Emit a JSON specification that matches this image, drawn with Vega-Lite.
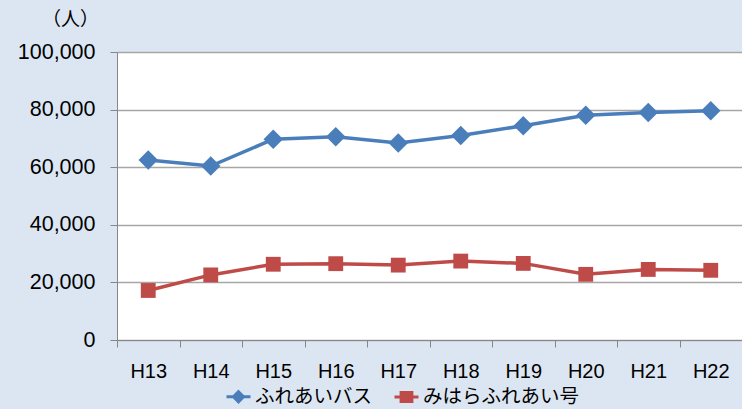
{
  "$schema": "https://vega.github.io/schema/vega-lite/v6.json",
  "width": 625,
  "height": 288,
  "autosize": "none",
  "padding": {"left": 117, "top": 52, "right": 0, "bottom": 69},
  "background": "#dce6f2",
  "view": {"fill": "white", "stroke": null},
  "config": {"font": "Liberation Sans"},
  "data": {
    "values": [
      {"year": "H13", "series": "ふれあいバス", "value": 62500},
      {"year": "H14", "series": "ふれあいバス", "value": 60400},
      {"year": "H15", "series": "ふれあいバス", "value": 69700},
      {"year": "H16", "series": "ふれあいバス", "value": 70600},
      {"year": "H17", "series": "ふれあいバス", "value": 68400},
      {"year": "H18", "series": "ふれあいバス", "value": 71000},
      {"year": "H19", "series": "ふれあいバス", "value": 74400},
      {"year": "H20", "series": "ふれあいバス", "value": 78000},
      {"year": "H21", "series": "ふれあいバス", "value": 79000},
      {"year": "H22", "series": "ふれあいバス", "value": 79600},
      {"year": "H13", "series": "みはらふれあい号", "value": 17200},
      {"year": "H14", "series": "みはらふれあい号", "value": 22600},
      {"year": "H15", "series": "みはらふれあい号", "value": 26300},
      {"year": "H16", "series": "みはらふれあい号", "value": 26500},
      {"year": "H17", "series": "みはらふれあい号", "value": 26000},
      {"year": "H18", "series": "みはらふれあい号", "value": 27400},
      {"year": "H19", "series": "みはらふれあい号", "value": 26600},
      {"year": "H20", "series": "みはらふれあい号", "value": 22800},
      {"year": "H21", "series": "みはらふれあい号", "value": 24500},
      {"year": "H22", "series": "みはらふれあい号", "value": 24200}
    ]
  },
  "encoding": {
    "x": {
      "field": "year",
      "type": "nominal",
      "sort": null,
      "scale": {"type": "band", "paddingInner": 0, "paddingOuter": 0},
      "axis": {
        "title": null,
        "labelAngle": 0,
        "labelFontSize": 20,
        "labelColor": "black",
        "labelPadding": 14,
        "tickSize": 7,
        "tickBand": "extent",
        "tickColor": "#868686",
        "domainColor": "#868686",
        "grid": false
      }
    },
    "y": {
      "field": "value",
      "type": "quantitative",
      "scale": {"domain": [0, 100000], "nice": false},
      "axis": {
        "title": "（人）",
        "titleAngle": 0,
        "titleX": -47,
        "titleY": -33,
        "titleAlign": "center",
        "titleBaseline": "middle",
        "titleFont": "Noto Sans CJK JP",
        "titleFontSize": 19,
        "titleFontWeight": "normal",
        "titleColor": "black",
        "values": [0, 20000, 40000, 60000, 80000, 100000],
        "format": ",d",
        "labelFontSize": 21.5,
        "labelColor": "black",
        "labelPadding": 15,
        "tickSize": 7,
        "tickColor": "#868686",
        "domainColor": "#868686",
        "gridColor": "#a6a6a6",
        "gridWidth": 1.5
      }
    },
    "color": {
      "field": "series",
      "type": "nominal",
      "sort": null,
      "scale": {"domain": ["ふれあいバス", "みはらふれあい号"], "range": ["#4a7ebb", "#be4b48"]},
      "legend": {
        "title": null,
        "orient": "none",
        "direction": "horizontal",
        "legendX": 108,
        "legendY": 331,
        "labelFont": "Noto Sans CJK JP",
        "labelFontSize": 19.5,
        "labelColor": "black",
        "labelLimit": 300,
        "labelOffset": 3,
        "columnPadding": 15,
        "symbolSize": 576,
        "symbolStrokeWidth": 3,
        "encode": {
          "symbols": {
            "update": {
              "shape": {"signal": "datum.value == 'ふれあいバス' ? 'M-1,0L1,0M0,-0.42L0.42,0L0,0.42L-0.42,0Z' : 'M-1,0L1,0M-0.45,-0.38L0.45,-0.38L0.45,0.38L-0.45,0.38Z'"},
              "fill": {"signal": "datum.value == 'ふれあいバス' ? '#4a7ebb' : '#be4b48'"},
              "stroke": {"signal": "datum.value == 'ふれあいバス' ? '#4a7ebb' : '#be4b48'"},
              "strokeWidth": {"value": 3},
              "opacity": {"value": 1}
            }
          }
        }
      }
    }
  },
  "layer": [
    {"mark": {"type": "line", "strokeWidth": 3.5}},
    {
      "transform": [{"filter": "datum.series == 'ふれあいバス'"}],
      "mark": {"type": "point", "shape": "diamond", "filled": true, "opacity": 1, "size": 380}
    },
    {
      "transform": [{"filter": "datum.series == 'みはらふれあい号'"}],
      "mark": {"type": "point", "shape": "square", "filled": true, "opacity": 1, "size": 220}
    }
  ]
}
